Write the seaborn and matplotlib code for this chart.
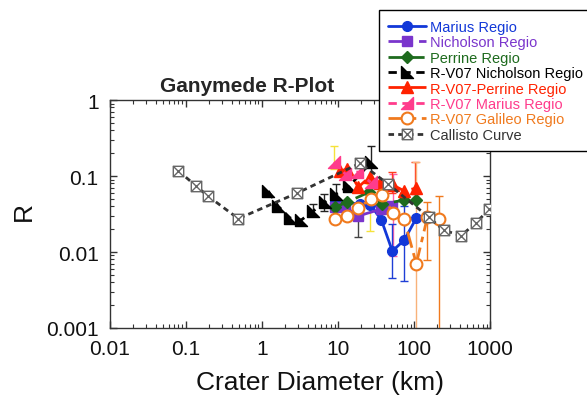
import numpy as np
import matplotlib
matplotlib.use("Agg")
import matplotlib.pyplot as plt
from matplotlib.path import Path
from matplotlib.ticker import FuncFormatter
import seaborn as sns

# ==========================================
# DATA

marius_d = [9.2, 19.6, 26.6, 37.2, 51.8, 74.5, 107]
marius_r = [0.0455, 0.043, 0.042, 0.0264, 0.0103, 0.0144, 0.028]

nicholson_d = [9.2, 12.5, 18.5, 37.2, 51.8]
nicholson_r = [0.039, 0.039, 0.0298, 0.0368, 0.040]

perrine_d = [9.2, 13.2, 25.8, 38.3, 74.5, 107]
perrine_r = [0.039, 0.0455, 0.0616, 0.0428, 0.0483, 0.0483]

rv07_nicholson_d = [1.21, 1.64, 2.35, 3.29, 4.73, 6.8, 9.5, 14.1, 27.4]
rv07_nicholson_r = [0.0635, 0.040, 0.028, 0.0264, 0.0346, 0.0455, 0.058, 0.074, 0.153]

rv07_perrine_d = [10.7, 13.2, 18.5, 26.0, 35.6, 53, 74.5, 107]
rv07_perrine_r = [0.116, 0.124, 0.0716, 0.097, 0.081, 0.076, 0.0635, 0.0695]

rv07_marius_d = [8.9, 12.5, 17.9, 26.8]
rv07_marius_r = [0.153, 0.106, 0.113, 0.083]

galileo_d = [9.2, 13.2, 18.5, 26.8, 38, 53, 74, 107, 150, 215]
galileo_r = [0.027, 0.0296, 0.038, 0.0498, 0.056, 0.0326, 0.027, 0.0070, 0.029, 0.027]

callisto_d = [0.08, 0.134, 0.193, 0.49, 2.93, 19.7, 45.4, 155, 244, 416, 646, 977]
callisto_r = [0.117, 0.075, 0.055, 0.0275, 0.060, 0.148, 0.0786, 0.029, 0.0194, 0.0164, 0.0242, 0.0365]

# error bars: diameter, lower end, upper end
black_err_d = [4.73, 6.6, 9.5, 27.4]
black_err_lo = [0.0298, 0.0346, 0.0428, 0.091]
black_err_hi = [0.0428, 0.058, 0.0785, 0.248]

gray_err_d = [18.5]
gray_err_lo = [0.0157]
gray_err_hi = [0.0403]

yellow_err_d = [8.9, 26.6]
yellow_err_lo = [0.124, 0.0189]
yellow_err_hi = [0.248, 0.0785]

pink_err_d = [53]
pink_err_lo = [0.0089]
pink_err_hi = [0.106]

red_err_d = [52, 103]
red_err_lo = [0.06, 0.058]
red_err_hi = [0.113, 0.153]

blue_err_d = [52, 74]
blue_err_lo = [0.0046, 0.0042]
blue_err_hi = [0.0234, 0.040]

orange_err_d = [150, 212]
orange_err_lo = [0.00785, 0.0007]
orange_err_hi = [0.0455, 0.0546]

lightorange_err_d = [107]
lightorange_err_lo = [0.0008]
lightorange_err_hi = [0.153]

# ==========================================
# MARKERS

tri_left = Path([(-1, 1), (-1, -1), (1, -1), (-1, 1)],
                [Path.MOVETO, Path.LINETO, Path.LINETO, Path.CLOSEPOLY])
tri_right = Path([(1, 1), (1, -1), (-1, -1), (1, 1)],
                 [Path.MOVETO, Path.LINETO, Path.LINETO, Path.CLOSEPOLY])
box_x = Path(
    [(-1, -1), (1, -1), (1, 1), (-1, 1), (-1, -1),
     (-1, -1), (1, 1), (-1, 1), (1, -1)],
    [Path.MOVETO, Path.LINETO, Path.LINETO, Path.LINETO, Path.CLOSEPOLY,
     Path.MOVETO, Path.LINETO, Path.MOVETO, Path.LINETO]
)

# ==========================================
# PLOT

sns.set_style("ticks")
plt.rcParams['font.family'] = ['Liberation Sans', 'DejaVu Sans']

fig = plt.figure(figsize=(5.87, 4.02), dpi=100)
ax = fig.add_axes([0.187, 0.1816, 0.648, 0.567])


def err(d, lo, hi, color):
    lo = np.array(lo)
    hi = np.array(hi)
    ax.errorbar(d, lo, yerr=[np.zeros(len(lo)), hi - lo], fmt='none',
                ecolor=color, elinewidth=1, capsize=3, capthick=1, zorder=1)


err(black_err_d, black_err_lo, black_err_hi, '#222222')
err(gray_err_d, gray_err_lo, gray_err_hi, '#444444')
err(yellow_err_d, yellow_err_lo, yellow_err_hi, '#f5e23a')
err(pink_err_d, pink_err_lo, pink_err_hi, '#ff5fa8')
err(red_err_d, red_err_lo, red_err_hi, '#ff3b1f')
err(blue_err_d, blue_err_lo, blue_err_hi, '#1f3fd6')
err(orange_err_d, orange_err_lo, orange_err_hi, '#f07a1e')
err(lightorange_err_d, lightorange_err_lo, lightorange_err_hi, '#f8b27a')

series = [
    (marius_d, marius_r, "Marius Regio", '#1238d8', 'o', '-', '#1238d8', 7),
    (nicholson_d, nicholson_r, "Nicholson Regio", '#7a35cc', 's', (0, (7, 4)), '#7a35cc', 7),
    (perrine_d, perrine_r, "Perrine Regio", '#1e6b1e', 'D', (0, (5, 3)), '#1e6b1e', 6),
    (rv07_nicholson_d, rv07_nicholson_r, "R-V07 Nicholson Regio", '#000000', tri_left, (0, (3, 2)), '#000000', 9),
    (rv07_perrine_d, rv07_perrine_r, "R-V07-Perrine Regio", '#ff2200', '^', (0, (6, 2)), '#ff2200', 8),
    (rv07_marius_d, rv07_marius_r, "R-V07 Marius Regio", '#ff3c8c', tri_right, (0, (3, 2)), '#ff3c8c', 9),
    (galileo_d, galileo_r, "R-V07 Galileo Regio", '#f07a1e', 'o', (0, (6, 2, 2, 2)), 'white', 8.5),
    (callisto_d, callisto_r, "Callisto Curve", '#333333', box_x, (0, (2, 1.5)), 'white', 7.5),
]

for i, (d, r, name, color, mk, ls, face, ms) in enumerate(series):
    callisto = name == "Callisto Curve"
    edge = '#666666' if callisto else color
    if face != 'white':
        mew = 1
    elif callisto:
        mew = 1
    else:
        mew = 1.5
    sns.lineplot(
        x=d, y=r, ax=ax, sort=False, estimator=None,
        color=color, marker=mk, linestyle=ls, linewidth=2,
        markersize=ms, markerfacecolor=face, markeredgecolor=edge,
        markeredgewidth=mew, label=name, zorder=2 + i
    )

ax.set_xscale('log')
ax.set_yscale('log')
ax.set_xlim(0.01, 1000)
ax.set_ylim(0.001, 1)

fmt = FuncFormatter(lambda v, _: f"{v:g}")
ax.xaxis.set_major_formatter(fmt)
ax.yaxis.set_major_formatter(fmt)

ax.tick_params(which='both', direction='in', top=True, right=True,
               color='#333333', labelsize=15, labelcolor='#111111')
ax.tick_params(which='major', length=5, width=1, pad=8)
ax.tick_params(which='minor', length=3, width=0.8)
for s in ax.spines.values():
    s.set_color('#333333')
    s.set_linewidth(1)

ax.set_xlabel("Crater Diameter (km)", fontsize=19, va='center', color='#111111')
ax.xaxis.set_label_coords(0.553, -0.237)
ax.set_ylabel("R", fontsize=19, va='center', color='#111111')
ax.yaxis.set_label_coords(-0.225, 0.5175)

fig.text(160 / 587, 1 - 92 / 402, "Ganymede R-Plot", fontsize=15,
         fontweight='bold', ha='left', va='baseline')

handles, labels = ax.get_legend_handles_labels()
ax.get_legend().remove()
leg = fig.legend(
    handles, labels, loc='upper left', bbox_to_anchor=(0.645, 0.972),
    borderaxespad=0, fontsize=10.5, labelspacing=0.1, handlelength=2.6,
    handletextpad=0.3, borderpad=0.65, fancybox=False, framealpha=1,
    edgecolor='black'
)
leg.get_frame().set_linewidth(1)
for text, s in zip(leg.get_texts(), series):
    text.set_color(s[3])

plt.savefig("out.png", dpi=100)
